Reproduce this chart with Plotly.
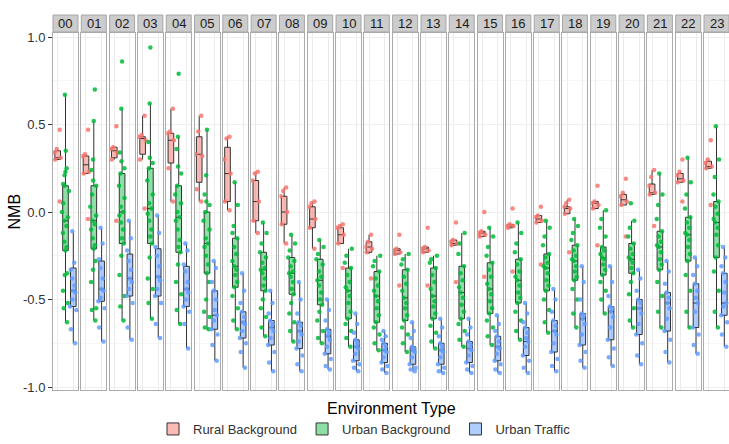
import plotly.graph_objects as go
from plotly.subplots import make_subplots

HOURS = ["00", "01", "02", "03", "04", "05", "06", "07", "08", "09", "10", "11",
         "12", "13", "14", "15", "16", "17", "18", "19", "20", "21", "22", "23"]
CATS = ["Rural Background", "Urban Background", "Urban Traffic"]
COLORS = ["#F8766D", "#00BA38", "#619CFF"]
FILLS = ["rgba(248,118,109,0.5)", "rgba(0,186,56,0.45)", "rgba(97,156,255,0.5)"]
Y_TICKS = [-1.0, -0.5, 0.0, 0.5, 1.0]
Y_TICK_TEXT = ["-1.0", "-0.5", "0.0", "0.5", "1.0"]

# box statistics per hour: (lower whisker, q1, median, q3, upper whisker)
RURAL_BOX = [
    (0.30, 0.30, 0.31, 0.35, 0.36), (0.22, 0.22, 0.27, 0.32, 0.33), (0.30, 0.31, 0.35, 0.37, 0.37),
    (0.30, 0.33, 0.42, 0.43, 0.55), (0.06, 0.28, 0.41, 0.45, 0.59), (0.06, 0.17, 0.33, 0.43, 0.55),
    (0.01, 0.06, 0.22, 0.37, 0.43), (-0.12, -0.05, 0.06, 0.18, 0.23), (-0.18, -0.07, 0.00, 0.09, 0.14),
    (-0.21, -0.09, -0.04, 0.03, 0.06), (-0.18, -0.18, -0.13, -0.09, -0.07), (-0.24, -0.23, -0.20, -0.17, -0.13),
    (-0.24, -0.24, -0.22, -0.21, -0.21), (-0.23, -0.23, -0.21, -0.20, -0.20), (-0.19, -0.19, -0.18, -0.16, -0.16),
    (-0.14, -0.14, -0.12, -0.11, -0.11), (-0.09, -0.09, -0.08, -0.07, -0.07), (-0.06, -0.06, -0.04, -0.02, -0.02),
    (-0.01, -0.01, 0.02, 0.03, 0.07), (0.02, 0.02, 0.05, 0.06, 0.06), (0.04, 0.04, 0.07, 0.10, 0.11),
    (0.10, 0.10, 0.11, 0.16, 0.24), (0.17, 0.17, 0.19, 0.22, 0.23), (0.25, 0.25, 0.26, 0.29, 0.30),
]
URBAN_BG_BOX = [
    (-0.63, -0.22, -0.05, 0.15, 0.67), (-0.62, -0.21, -0.05, 0.15, 0.52), (-0.62, -0.18, 0.00, 0.22, 0.59),
    (-0.61, -0.18, 0.02, 0.25, 0.62), (-0.64, -0.23, -0.03, 0.15, 0.43), (-0.67, -0.35, -0.18, 0.00, 0.47),
    (-0.67, -0.43, -0.31, -0.15, 0.17), (-0.71, -0.45, -0.33, -0.23, -0.06), (-0.74, -0.47, -0.35, -0.26, -0.13),
    (-0.75, -0.53, -0.39, -0.27, -0.16), (-0.77, -0.61, -0.45, -0.32, -0.21), (-0.79, -0.63, -0.48, -0.34, -0.25),
    (-0.80, -0.62, -0.49, -0.33, -0.24), (-0.78, -0.61, -0.48, -0.32, -0.25), (-0.77, -0.61, -0.46, -0.31, -0.12),
    (-0.76, -0.58, -0.44, -0.29, -0.09), (-0.73, -0.52, -0.39, -0.27, -0.06), (-0.69, -0.45, -0.32, -0.24, -0.05),
    (-0.66, -0.39, -0.28, -0.19, -0.04), (-0.58, -0.36, -0.26, -0.20, 0.01), (-0.66, -0.35, -0.27, -0.18, -0.05),
    (-0.66, -0.33, -0.20, -0.11, 0.22), (-0.66, -0.28, -0.13, -0.03, 0.31), (-0.66, -0.26, -0.06, 0.06, 0.49),
]
URBAN_TR_BOX = [
    (-0.75, -0.54, -0.45, -0.32, -0.11), (-0.74, -0.51, -0.44, -0.28, -0.09), (-0.73, -0.48, -0.38, -0.24, -0.05),
    (-0.72, -0.48, -0.37, -0.21, -0.02), (-0.78, -0.54, -0.44, -0.31, -0.18), (-0.85, -0.67, -0.59, -0.45, -0.28),
    (-0.89, -0.72, -0.63, -0.57, -0.35), (-0.91, -0.76, -0.66, -0.62, -0.45), (-0.91, -0.78, -0.68, -0.63, -0.40),
    (-0.90, -0.81, -0.71, -0.67, -0.50), (-0.91, -0.85, -0.77, -0.73, -0.58), (-0.92, -0.86, -0.79, -0.75, -0.68),
    (-0.91, -0.87, -0.79, -0.77, -0.63), (-0.92, -0.87, -0.79, -0.75, -0.61), (-0.92, -0.86, -0.78, -0.74, -0.61),
    (-0.92, -0.85, -0.77, -0.71, -0.59), (-0.92, -0.82, -0.74, -0.66, -0.52), (-0.91, -0.80, -0.68, -0.62, -0.44),
    (-0.89, -0.76, -0.61, -0.58, -0.31), (-0.88, -0.73, -0.57, -0.54, -0.31), (-0.87, -0.70, -0.55, -0.50, -0.33),
    (-0.86, -0.68, -0.52, -0.46, -0.28), (-0.81, -0.66, -0.52, -0.41, -0.26), (-0.77, -0.59, -0.52, -0.35, -0.20),
]

# individual station values per hour
RURAL_PTS = [
    [0.47, 0.36, 0.34, 0.31, 0.30, 0.06], [0.47, 0.33, 0.32, 0.23, 0.22, -0.04],
    [0.49, 0.37, 0.36, 0.34, 0.30, -0.05], [0.55, 0.44, 0.43, 0.41, 0.30, 0.02],
    [0.59, 0.46, 0.45, 0.41, 0.25, 0.06], [0.55, 0.46, 0.33, 0.32, 0.13, 0.06],
    [0.43, 0.42, 0.30, 0.22, 0.06, 0.01], [0.23, 0.22, 0.18, 0.06, -0.05, -0.12],
    [0.14, 0.12, 0.09, 0.00, -0.07, -0.18], [0.06, 0.05, 0.03, -0.04, -0.09, -0.21],
    [-0.07, -0.08, -0.09, -0.13, -0.18, -0.32], [-0.13, -0.17, -0.20, -0.21, -0.23, -0.38],
    [-0.13, -0.21, -0.22, -0.23, -0.24, -0.42], [-0.09, -0.20, -0.21, -0.22, -0.23, -0.42],
    [-0.06, -0.16, -0.17, -0.18, -0.19, -0.40], [0.00, -0.11, -0.12, -0.13, -0.14, -0.37],
    [0.02, -0.07, -0.08, -0.08, -0.09, -0.34], [0.03, -0.02, -0.03, -0.05, -0.06, -0.30],
    [0.07, 0.05, 0.03, 0.02, -0.01, -0.23], [0.15, 0.06, 0.05, 0.04, 0.02, -0.19],
    [0.19, 0.11, 0.09, 0.06, 0.04, -0.14], [0.24, 0.20, 0.15, 0.11, 0.10, -0.08],
    [0.30, 0.23, 0.21, 0.18, 0.17, 0.06], [0.41, 0.30, 0.28, 0.26, 0.25, 0.04],
]
URBAN_BG_PTS = [
    [0.67, 0.35, 0.25, 0.23, 0.21, 0.16, 0.15, 0.12, 0.05, 0.00, -0.03, -0.05, -0.08, -0.12, -0.17, -0.20, -0.22, -0.35, -0.36, -0.45, -0.52, -0.55, -0.63],
    [0.70, 0.52, 0.30, 0.24, 0.18, 0.15, 0.10, 0.03, -0.02, -0.05, -0.07, -0.10, -0.15, -0.19, -0.21, -0.28, -0.33, -0.40, -0.55, -0.56, -0.62],
    [0.86, 0.59, 0.34, 0.29, 0.25, 0.22, 0.15, 0.08, 0.03, 0.00, -0.02, -0.06, -0.10, -0.15, -0.18, -0.25, -0.36, -0.48, -0.54, -0.62],
    [0.94, 0.62, 0.40, 0.31, 0.28, 0.25, 0.18, 0.10, 0.05, 0.02, -0.01, -0.05, -0.10, -0.14, -0.18, -0.26, -0.38, -0.44, -0.52, -0.61],
    [0.79, 0.43, 0.36, 0.26, 0.22, 0.15, 0.10, 0.05, 0.00, -0.03, -0.05, -0.10, -0.16, -0.20, -0.23, -0.30, -0.40, -0.47, -0.56, -0.64],
    [0.47, 0.21, 0.10, 0.06, 0.04, 0.00, -0.05, -0.10, -0.15, -0.18, -0.20, -0.25, -0.30, -0.35, -0.40, -0.50, -0.57, -0.60, -0.66, -0.67],
    [0.17, 0.04, -0.08, -0.12, -0.15, -0.20, -0.24, -0.28, -0.31, -0.33, -0.36, -0.40, -0.43, -0.48, -0.55, -0.62, -0.67],
    [-0.06, -0.12, -0.18, -0.23, -0.26, -0.29, -0.32, -0.33, -0.35, -0.38, -0.42, -0.45, -0.50, -0.55, -0.60, -0.66, -0.71],
    [-0.13, -0.18, -0.22, -0.26, -0.28, -0.31, -0.34, -0.35, -0.37, -0.40, -0.44, -0.47, -0.52, -0.58, -0.63, -0.68, -0.74],
    [-0.16, -0.20, -0.24, -0.27, -0.30, -0.34, -0.37, -0.39, -0.42, -0.46, -0.50, -0.53, -0.57, -0.62, -0.68, -0.72, -0.75],
    [-0.21, -0.25, -0.29, -0.32, -0.36, -0.40, -0.43, -0.45, -0.48, -0.52, -0.57, -0.61, -0.64, -0.68, -0.72, -0.77],
    [-0.25, -0.28, -0.31, -0.34, -0.38, -0.42, -0.45, -0.48, -0.51, -0.55, -0.59, -0.63, -0.66, -0.70, -0.75, -0.79],
    [-0.24, -0.27, -0.30, -0.33, -0.37, -0.41, -0.45, -0.49, -0.52, -0.55, -0.59, -0.62, -0.66, -0.70, -0.75, -0.80],
    [-0.25, -0.27, -0.29, -0.32, -0.36, -0.40, -0.44, -0.48, -0.51, -0.54, -0.58, -0.61, -0.65, -0.69, -0.74, -0.78],
    [-0.12, -0.18, -0.24, -0.31, -0.35, -0.39, -0.43, -0.46, -0.49, -0.53, -0.57, -0.61, -0.64, -0.68, -0.73, -0.77],
    [-0.09, -0.14, -0.20, -0.25, -0.29, -0.33, -0.37, -0.41, -0.44, -0.47, -0.51, -0.55, -0.58, -0.62, -0.66, -0.71, -0.76],
    [-0.06, -0.12, -0.18, -0.23, -0.27, -0.30, -0.34, -0.37, -0.39, -0.42, -0.46, -0.49, -0.52, -0.57, -0.62, -0.68, -0.73],
    [-0.05, -0.09, -0.14, -0.19, -0.24, -0.26, -0.29, -0.31, -0.32, -0.35, -0.39, -0.42, -0.45, -0.50, -0.56, -0.63, -0.69],
    [-0.04, -0.08, -0.12, -0.16, -0.19, -0.22, -0.25, -0.27, -0.28, -0.31, -0.34, -0.37, -0.39, -0.44, -0.50, -0.58, -0.66],
    [0.01, -0.04, -0.09, -0.14, -0.20, -0.22, -0.24, -0.26, -0.27, -0.30, -0.33, -0.36, -0.40, -0.45, -0.50, -0.58],
    [0.05, -0.05, -0.09, -0.14, -0.18, -0.21, -0.24, -0.26, -0.27, -0.29, -0.32, -0.35, -0.40, -0.47, -0.55, -0.62, -0.66],
    [0.22, 0.10, 0.04, -0.04, -0.11, -0.14, -0.17, -0.19, -0.20, -0.23, -0.27, -0.30, -0.33, -0.40, -0.48, -0.57, -0.66],
    [0.31, 0.17, 0.10, 0.02, -0.03, -0.06, -0.09, -0.12, -0.13, -0.16, -0.20, -0.24, -0.28, -0.36, -0.45, -0.57, -0.66],
    [0.49, 0.30, 0.20, 0.10, 0.06, 0.03, -0.01, -0.04, -0.06, -0.09, -0.13, -0.19, -0.26, -0.34, -0.45, -0.57, -0.66],
]
URBAN_TR_PTS = [
    [-0.11, -0.29, -0.33, -0.38, -0.42, -0.45, -0.46, -0.50, -0.54, -0.56, -0.67, -0.75],
    [-0.09, -0.18, -0.27, -0.32, -0.38, -0.44, -0.45, -0.49, -0.51, -0.55, -0.66, -0.74],
    [-0.05, -0.15, -0.22, -0.28, -0.33, -0.38, -0.40, -0.44, -0.48, -0.52, -0.66, -0.73],
    [-0.02, -0.12, -0.20, -0.25, -0.31, -0.37, -0.39, -0.44, -0.48, -0.52, -0.64, -0.72],
    [-0.18, -0.22, -0.30, -0.34, -0.40, -0.44, -0.46, -0.50, -0.54, -0.57, -0.64, -0.78],
    [-0.28, -0.32, -0.40, -0.45, -0.50, -0.56, -0.59, -0.62, -0.67, -0.70, -0.76, -0.85],
    [-0.35, -0.45, -0.52, -0.57, -0.60, -0.63, -0.64, -0.68, -0.72, -0.75, -0.80, -0.89],
    [-0.45, -0.52, -0.58, -0.62, -0.64, -0.66, -0.68, -0.72, -0.76, -0.80, -0.86, -0.91],
    [-0.40, -0.50, -0.58, -0.63, -0.65, -0.68, -0.70, -0.74, -0.78, -0.82, -0.87, -0.91],
    [-0.50, -0.56, -0.62, -0.67, -0.69, -0.71, -0.73, -0.77, -0.81, -0.84, -0.88, -0.90],
    [-0.58, -0.64, -0.69, -0.73, -0.75, -0.77, -0.78, -0.81, -0.85, -0.87, -0.89, -0.91],
    [-0.68, -0.71, -0.73, -0.75, -0.77, -0.79, -0.80, -0.83, -0.86, -0.88, -0.90, -0.92],
    [-0.63, -0.68, -0.72, -0.77, -0.78, -0.79, -0.80, -0.83, -0.87, -0.89, -0.90, -0.91],
    [-0.61, -0.66, -0.71, -0.75, -0.77, -0.79, -0.80, -0.83, -0.87, -0.89, -0.91, -0.92],
    [-0.61, -0.66, -0.70, -0.74, -0.76, -0.78, -0.79, -0.82, -0.86, -0.88, -0.90, -0.92],
    [-0.59, -0.64, -0.68, -0.71, -0.74, -0.77, -0.78, -0.81, -0.85, -0.87, -0.90, -0.92],
    [-0.52, -0.58, -0.63, -0.66, -0.69, -0.72, -0.74, -0.77, -0.82, -0.85, -0.89, -0.92],
    [-0.44, -0.50, -0.57, -0.62, -0.65, -0.68, -0.70, -0.75, -0.80, -0.84, -0.88, -0.91],
    [-0.31, -0.40, -0.50, -0.58, -0.59, -0.61, -0.64, -0.70, -0.76, -0.80, -0.85, -0.89],
    [-0.31, -0.40, -0.48, -0.54, -0.55, -0.57, -0.60, -0.66, -0.73, -0.78, -0.83, -0.88],
    [-0.33, -0.38, -0.45, -0.50, -0.52, -0.55, -0.58, -0.64, -0.70, -0.75, -0.82, -0.87],
    [-0.28, -0.34, -0.41, -0.46, -0.49, -0.52, -0.55, -0.61, -0.68, -0.73, -0.80, -0.86],
    [-0.26, -0.31, -0.36, -0.41, -0.45, -0.49, -0.52, -0.57, -0.66, -0.70, -0.76, -0.81],
    [-0.20, -0.26, -0.31, -0.35, -0.40, -0.46, -0.52, -0.54, -0.59, -0.63, -0.70, -0.77],
]

BOXES = [RURAL_BOX, URBAN_BG_BOX, URBAN_TR_BOX]
POINTS = [RURAL_PTS, URBAN_BG_PTS, URBAN_TR_PTS]
FONT = "Liberation Sans, Arial, sans-serif"

n = len(HOURS)
fig = make_subplots(rows=1, cols=n, shared_yaxes=True, horizontal_spacing=0.0049)

for i, hour in enumerate(HOURS):
    col = i + 1
    for k in range(3):
        lo, q1, md, q3, hi = BOXES[k][i]
        fig.add_trace(go.Box(
            x=[CATS[k]], q1=[q1], median=[md], q3=[q3], lowerfence=[lo], upperfence=[hi],
            boxpoints=False, fillcolor=FILLS[k], line=dict(color="#333333", width=1),
            width=0.72, whiskerwidth=0, name=CATS[k], legendgroup=CATS[k],
            showlegend=(i == 0), hoverinfo="skip"), row=1, col=col)
    for k in range(3):
        pts = POINTS[k][i]
        fig.add_trace(go.Box(
            x=[CATS[k]] * len(pts), y=pts, boxpoints="all", jitter=1, pointpos=0,
            width=1.0, fillcolor="rgba(0,0,0,0)",
            line=dict(color="rgba(0,0,0,0)", width=0),
            marker=dict(color=COLORS[k], size=4.5, opacity=0.85, line=dict(width=0)),
            showlegend=False, legendgroup=CATS[k], hoverinfo="skip"), row=1, col=col)

fig.update_xaxes(type="category", categoryorder="array", categoryarray=CATS,
                 range=[-0.6, 2.6], showticklabels=False, ticks="",
                 showgrid=True, gridcolor="#EBEBEB", gridwidth=1,
                 showline=True, mirror=True, linecolor="#ABABAB", linewidth=1,
                 zeroline=False, fixedrange=True)
fig.update_yaxes(range=[-1.017, 1.023], tickvals=Y_TICKS, ticktext=Y_TICK_TEXT,
                 showgrid=True, gridcolor="#EFEFEF", gridwidth=1,
                 minor=dict(tickvals=[-0.75, -0.25, 0.25, 0.75], showgrid=True,
                            gridcolor="#F6F6F6", ticks=""),
                 showline=True, mirror=True, linecolor="#ABABAB", linewidth=1,
                 zeroline=False, showticklabels=False, ticks="", fixedrange=True)
fig.update_yaxes(showticklabels=True, ticks="outside", ticklen=4, tickcolor="#333333",
                 tickfont=dict(size=13, color="#333333", family=FONT), row=1, col=1)

# facet strips
PLOT_H = 357.0
for i, hour in enumerate(HOURS):
    ref = "x domain" if i == 0 else f"x{i + 1} domain"
    fig.add_shape(type="rect", xref=ref, yref="paper", x0=0, x1=1,
                  y0=1 + 1 / PLOT_H, y1=1 + 18 / PLOT_H,
                  fillcolor="#CCCCCC", line=dict(color="#A6A6A6", width=1), layer="above")
    fig.add_annotation(xref=ref, yref="paper", x=0.5, y=1 + 9.5 / PLOT_H,
                       text=hour, showarrow=False, xanchor="center", yanchor="middle",
                       font=dict(size=13, color="#1A1A1A", family=FONT))

fig.add_annotation(xref="paper", yref="paper", x=0.5, y=-18 / PLOT_H,
                   text="Environment Type", showarrow=False, xanchor="center", yanchor="middle",
                   font=dict(size=16, color="#000000", family=FONT))
fig.add_annotation(xref="paper", yref="paper", x=-39 / 676, y=0.5, textangle=-90,
                   text="NMB", showarrow=False, xanchor="center", yanchor="middle",
                   font=dict(size=16, color="#000000", family=FONT))

fig.update_layout(
    width=729, height=444,
    margin=dict(l=53, r=0, t=33, b=54, autoexpand=False),
    plot_bgcolor="white", paper_bgcolor="white",
    boxmode="overlay",
    font=dict(family=FONT, color="#333333", size=13),
    legend=dict(orientation="h", xref="container", yref="container",
                x=0.5, xanchor="center", y=-0.012, yanchor="bottom",
                font=dict(size=13, color="#333333", family=FONT),
                itemwidth=30, tracegroupgap=0, bgcolor="rgba(0,0,0,0)"),
)

fig.write_html("out.html")
